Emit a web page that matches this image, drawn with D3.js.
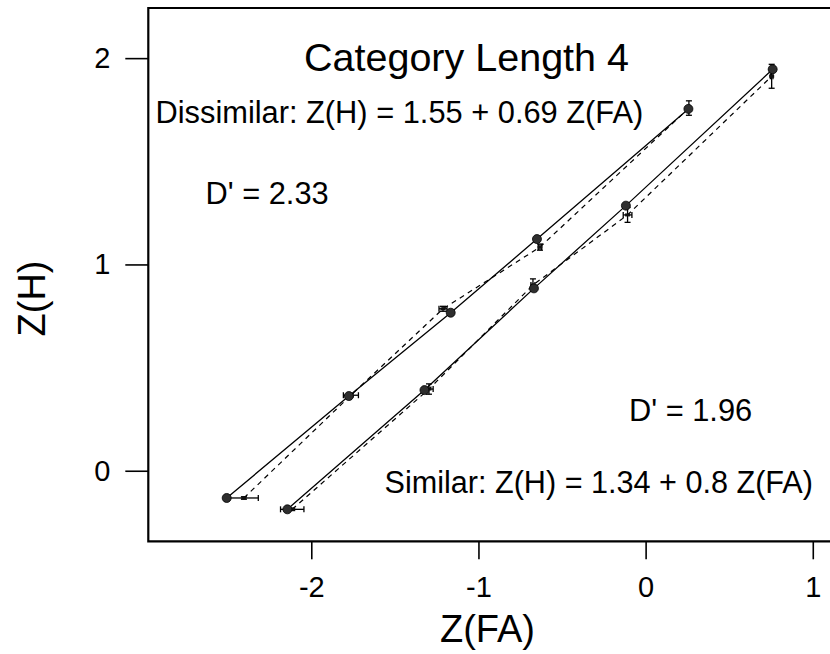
<!DOCTYPE html>
<html>
<head>
<meta charset="utf-8">
<script src="https://cdn.jsdelivr.net/npm/d3@7/dist/d3.min.js"></script>
<style>
  html, body { margin: 0; padding: 0; background: #fff; }
  svg { display: block; font-family: Arial, "Liberation Sans", sans-serif; }
</style>
</head>
<body>
<svg id="chart" width="830" height="654"></svg>
<script>
// ---- Data ----
const xTicks = [-2, -1, 0, 1];
const yTicks = [0, 1, 2];

// Dissimilar condition: solid line with markers
const dissimSolidX = [-2.506, -1.775, -1.166, -0.650, 0.256];
const dissimSolidY = [-0.132, 0.362, 0.766, 1.123, 1.754];
// Dissimilar condition: dashed line with error bars
const dissimDashX = [-2.403, -1.763, -1.212, -0.632, 0.259];
const dissimDashY = [-0.132, 0.366, 0.785, 1.084, 1.758];
const dissimDashXErr = [0.086, 0.045, 0.024, 0.010, 0.008];
const dissimDashYErr = [0.006, 0.008, 0.012, 0.015, 0.035];

// Similar condition: solid line with markers
const simSolidX = [-2.143, -1.323, -0.668, -0.118, 0.760];
const simSolidY = [-0.187, 0.391, 0.884, 1.285, 1.946];
// Similar condition: dashed line with error bars
const simDashX = [-2.114, -1.296, -0.674, -0.108, 0.754];
const simDashY = [-0.187, 0.396, 0.900, 1.240, 1.912];
const simDashXErr = [0.070, 0.025, 0.012, 0.026, 0.008];
const simDashYErr = [0.006, 0.025, 0.030, 0.036, 0.058];

const titleText = "Category Length 4";
const dissimEq = "Dissimilar: Z(H) = 1.55 + 0.69 Z(FA)";
const dissimD = "D' = 2.33";
const simEq = "Similar: Z(H) = 1.34 + 0.8 Z(FA)";
const simD = "D' = 1.96";
const xLabel = "Z(FA)";
const yLabel = "Z(H)";

// ---- Layout ----
const svg = d3.select("#chart");
const pLeft = 148.3, pRight = 830, pTop = 8, pBottom = 541.3;

const x = d3.scaleLinear().domain([-2.975, 1.103]).range([pLeft, pRight]);
const y = d3.scaleLinear().domain([-0.342, 2.243]).range([pBottom, pTop]);

// Axes
const xAxis = d3.axisBottom(x).tickValues(xTicks).tickSize(18).tickPadding(17).tickFormat(d3.format("d"));
const gx = svg.append("g").attr("transform", `translate(0,${pBottom})`).call(xAxis);
gx.select(".domain").remove();
gx.selectAll(".tick line").attr("stroke", "#000").attr("stroke-width", 1.6);
gx.selectAll(".tick text").attr("font-size", 29).attr("fill", "#000")
  .attr("font-family", 'Arial, "Liberation Sans", sans-serif').text(d => d < 0 ? "-" + Math.abs(d) : d);

const yAxis = d3.axisLeft(y).tickValues(yTicks).tickSize(23).tickPadding(15).tickFormat(d3.format("d"));
const gy = svg.append("g").attr("transform", `translate(${pLeft},0)`).call(yAxis);
gy.select(".domain").remove();
gy.selectAll(".tick line").attr("stroke", "#000").attr("stroke-width", 1.6);
gy.selectAll(".tick text").attr("font-size", 29).attr("fill", "#000")
  .attr("font-family", 'Arial, "Liberation Sans", sans-serif');

// Frame (left, top, bottom)
svg.append("path")
  .attr("d", `M${pRight},${pTop}H${pLeft}V${pBottom}H${pRight}`)
  .attr("fill", "none").attr("stroke", "#000").attr("stroke-width", 2.2);

// Axis labels
svg.append("text").attr("x", 487.5).attr("y", 642).attr("text-anchor", "middle")
  .attr("font-size", 38).text(xLabel);
svg.append("text").attr("transform", "translate(45,298.5) rotate(-90)")
  .attr("text-anchor", "middle").attr("font-size", 38).text(yLabel);

// Annotations
svg.append("text").attr("x", 466.5).attr("y", 71).attr("text-anchor", "middle")
  .attr("font-size", 39.5).text(titleText);
svg.append("text").attr("x", 155.5).attr("y", 123).attr("font-size", 30.8).text(dissimEq);
svg.append("text").attr("x", 205.5).attr("y", 204).attr("font-size", 30.8).text(dissimD);
svg.append("text").attr("x", 629).attr("y", 421).attr("font-size", 30.8).text(simD);
svg.append("text").attr("x", 384.5).attr("y", 493).attr("font-size", 30.6).text(simEq);

// Series helpers
const zip = (xs, ys) => xs.map((v, i) => [v, ys[i]]);
const line = d3.line().x(d => x(d[0])).y(d => y(d[1]));

function drawDashed(xs, ys, xe, ye) {
  const pts = zip(xs, ys);
  svg.append("path").datum(pts).attr("d", line)
    .attr("fill", "none").attr("stroke", "#000").attr("stroke-width", 1.2)
    .attr("stroke-dasharray", "5,4.5");
  const g = svg.append("g").attr("stroke", "#000").attr("stroke-width", 1.3);
  pts.forEach((p, i) => {
    const cx = x(p[0]), cy = y(p[1]);
    const x0 = x(p[0] - xe[i]), x1 = x(p[0] + xe[i]);
    const y0 = y(p[1] - ye[i]), y1 = y(p[1] + ye[i]);
    g.append("line").attr("x1", x0).attr("x2", x1).attr("y1", cy).attr("y2", cy);
    g.append("line").attr("x1", x0).attr("x2", x0).attr("y1", cy - 3).attr("y2", cy + 3);
    g.append("line").attr("x1", x1).attr("x2", x1).attr("y1", cy - 3).attr("y2", cy + 3);
    g.append("line").attr("x1", cx).attr("x2", cx).attr("y1", y0).attr("y2", y1);
    g.append("line").attr("x1", cx - 3).attr("x2", cx + 3).attr("y1", y0).attr("y2", y0);
    g.append("line").attr("x1", cx - 3).attr("x2", cx + 3).attr("y1", y1).attr("y2", y1);
    g.append("rect").attr("x", cx - 2.5).attr("y", cy - 1.5).attr("width", 5).attr("height", 3)
      .attr("fill", "#111").attr("stroke", "none");
  });
}

function drawSolid(xs, ys) {
  const pts = zip(xs, ys);
  svg.append("path").datum(pts).attr("d", line)
    .attr("fill", "none").attr("stroke", "#000").attr("stroke-width", 1.3);
  svg.append("g").selectAll("circle").data(pts).join("circle")
    .attr("cx", d => x(d[0])).attr("cy", d => y(d[1])).attr("r", 4.5)
    .attr("fill", "#2e2e2e").attr("stroke", "#000").attr("stroke-width", 0.8);
}

drawDashed(dissimDashX, dissimDashY, dissimDashXErr, dissimDashYErr);
drawDashed(simDashX, simDashY, simDashXErr, simDashYErr);
drawSolid(dissimSolidX, dissimSolidY);
drawSolid(simSolidX, simSolidY);
</script>
</body>
</html>
